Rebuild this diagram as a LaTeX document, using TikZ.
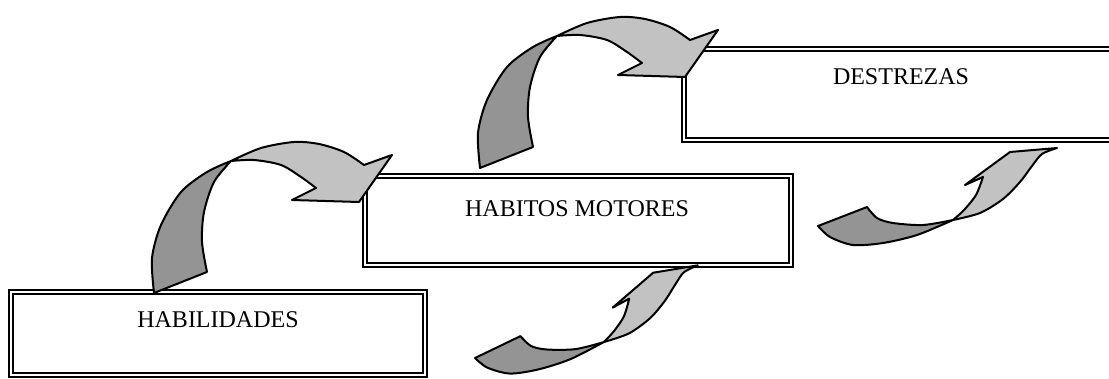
\documentclass[tikz,border=0pt]{standalone}
\usepackage{fontspec}
\setmainfont{Liberation Serif}
\usetikzlibrary{positioning}

\begin{document}
\begin{tikzpicture}[x=1pt, y=-1pt,
    textbox/.style={draw, line width=2.2pt, double, double distance=1.8pt, inner sep=0pt},
    boxlabel/.style={anchor=base, inner sep=0pt, font=\fontsize{24}{28}\selectfont},
    arrowline/.style={draw=black, line width=2pt, line join=round},
    backface/.style={arrowline, fill=black!42},
    frontface/.style={arrowline, fill=black!24},
    pics/archarrow/.style={code={
        \path[backface] plot[smooth] coordinates {(77,-132) (53,-121) (27,-101) (7,-68) (-2,-35) (0,0)}
            -- plot[smooth] coordinates {(53,-21) (48,-51) (50,-81) (60,-111) (77,-132)} -- cycle;
        \path[frontface] plot[smooth] coordinates {(77,-132) (107,-145) (140,-151) (165,-149) (190,-141) (210,-128)}
            -- (238,-138) -- (205,-91) -- (138,-93)
            -- plot[smooth] coordinates {(162,-105) (147,-116) (127,-128) (100,-133) (77,-132)} -- cycle;
    }},
    pics/swooparrow/.style={code={
        \path[backface] (0,0) -- (49,-19)
            -- plot[smooth] coordinates {(49,-19) (59,-8) (75,-3) (105,-1) (135,-6)}
            -- plot[smooth] coordinates {(135,-6) (99,9) (65,17) (35,19) (12,11) (0,0)} -- cycle;
        \path[frontface] plot[smooth] coordinates {(135,-6) (146,-16) (158,-31) (165,-49)}
            -- (147,-41) -- (192,-74) -- (239,-78)
            -- plot[smooth] coordinates {(239,-78) (224,-72) (214,-60) (202,-44) (185,-27) (162,-13) (135,-6)} -- cycle;
    }}]
\useasboundingbox (0,0) rectangle (1109,379);

% 1. Boxes
\node[textbox, minimum width=414pt, minimum height=83pt] (habil) at (218,333.5) {};
\node[textbox, minimum width=426pt, minimum height=89pt] (habit) at (578,220.5) {};
\node[textbox, minimum width=434pt, minimum height=91pt] (destr) at (901,94.5) {};

\node[boxlabel] (habiltext) at (218,328) {HABILIDADES};
\node[boxlabel] (habittext) at (577,217) {HABITOS MOTORES};
\node[boxlabel] (destrtext) at (901,85) {DESTREZAS};

% 2. Curved arrows
\pic (habiltohabit) at (154,293) {archarrow};
\pic (habittodestr) at (480,168) {archarrow};
\pic[rotate=4.5, scale=0.96] (lowerswoop) at (475,358) {swooparrow};
\pic (upperswoop) at (818,226) {swooparrow};

\end{tikzpicture}
\end{document}
